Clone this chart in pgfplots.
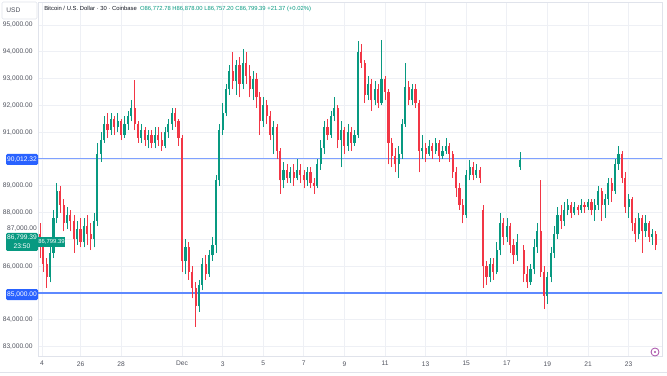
\documentclass[border=0pt]{standalone}
\usepackage{pgfplots}
\pgfplotsset{compat=1.18}
\usepackage{pgfplotstable}
\usepackage{fontspec}
\setmainfont{Liberation Sans}
\definecolor{upc}{HTML}{089981}
\definecolor{dnc}{HTML}{F23645}
\definecolor{gridc}{HTML}{EEF0F5}
\definecolor{txt}{HTML}{131722}
\definecolor{gtxt}{HTML}{50535E}
\definecolor{blu}{HTML}{2962FF}
\definecolor{bordc}{HTML}{E0E3EB}

\pgfplotstableread{
x o h l c
24.50 85600 86700 85400 86500
24.67 86500 88100 86300 87800
24.83 87800 89100 87600 88800
25.33 87600 88200 87400 87900
25.83 87000 87700 86800 87400
26.17 86900 87800 86700 87500
26.67 87000 88000 86700 87700
26.83 87700 90600 87500 90200
27.00 90200 91000 89900 90700
27.17 90700 91600 90600 91300
27.50 91100 91700 90900 91500
27.83 91200 91700 91000 91400
28.17 90900 91600 90800 91300
28.33 91300 91800 91100 91600
28.50 91600 92200 91400 91900
29.00 90800 91300 90600 91100
29.33 90700 91100 90400 90900
29.67 90600 91200 90400 90900
30.17 90500 91200 90400 91000
30.33 91000 91500 90800 91300
30.50 91300 91900 91100 91700
31.17 86200 87000 85700 86700
31.83 84500 85500 84300 85300
32.00 85300 86300 85100 86100
32.33 85700 86600 85600 86400
32.50 86400 87100 86200 86800
32.67 86800 89400 86500 89200
32.83 89200 91300 89000 91100
33.00 91100 92100 90900 91700
33.17 91700 92800 91600 92600
33.33 92600 93500 92400 93300
33.67 92900 93700 92400 93500
34.00 92800 94100 92600 93600
34.50 92600 93300 92200 93000
35.00 91400 92300 91200 92000
35.50 90900 91400 90200 91200
36.00 89200 89900 88900 89600
36.33 89300 89700 89100 89500
36.67 89300 90000 89200 89600
37.17 89200 89700 89000 89500
37.67 89000 90000 88900 89800
37.83 89800 90700 89600 90400
38.00 90400 91400 90200 91200
38.33 90900 91800 90800 91600
38.50 91600 92300 91400 91900
38.83 90700 91400 89700 91100
39.17 90500 91300 90300 91000
39.50 90600 91100 90500 90900
39.67 90900 94400 90800 94000
40.17 92400 93100 92200 92800
40.50 92200 92900 92000 92600
40.83 92100 94450 92000 93000
41.67 89800 90500 89300 90200
41.83 90200 91500 90000 91300
42.00 91300 93600 91200 92700
42.33 92200 92800 92000 92600
42.83 90300 90900 90000 90400
43.17 90200 90700 90100 90500
43.50 90300 90800 90200 90600
43.83 90100 90500 90000 90300
44.00 90300 90800 90200 90500
45.00 87900 89600 87800 89400
45.17 89400 89950 89200 89700
45.50 89400 89800 89300 89600
46.17 85600 86300 85400 86100
46.50 85800 86900 85700 86600
46.67 86600 88000 86400 87600
47.00 87100 87800 86900 87500
47.50 86400 87200 86200 86900
47.67 89700 90260 89590 89950
48.17 85400 86100 85300 85900
48.33 85900 87000 85700 86700
48.50 86700 87600 86500 87300
49.00 84900 85800 84600 85600
49.17 85600 86700 85400 86500
49.33 86500 87500 86300 87200
49.50 87200 88200 87000 87900
49.83 87700 88400 87500 88100
50.00 88100 88500 87900 88300
50.33 88000 88400 87900 88200
50.67 88100 88500 88000 88300
51.00 88200 88500 88100 88400
51.33 88100 88500 87700 88300
51.50 88300 89000 88100 88800
51.83 88300 88700 87800 88500
52.00 88500 89300 88300 89100
52.33 88800 90000 88700 89800
52.50 89800 90500 89600 90200
53.00 88200 88700 87800 88500
53.50 87200 88000 87000 87800
53.83 87300 87900 87100 87600
54.17 87100 87400 86800 87200
}\upc

\pgfplotstableread{
x o h l c
24.00 87200 87600 86300 86700
24.17 86700 86900 85800 86100
24.33 86100 86300 85200 85600
25.00 88800 89000 88000 88300
25.17 88300 88500 87300 87600
25.50 87900 88100 87300 87700
25.67 87700 87900 86500 87000
26.00 87400 87800 86700 86900
26.33 87500 87900 86800 87200
26.50 87200 87600 86600 87000
27.33 91300 91700 90800 91100
27.67 91500 91600 90900 91200
28.00 91400 91500 90700 90900
28.67 91900 92950 91100 91300
28.83 91300 91400 90600 90800
29.17 91100 91200 90500 90700
29.50 90900 91100 90400 90600
29.83 90900 91200 90500 90700
30.00 90700 91000 90300 90500
30.67 91700 91900 91200 91400
30.83 91400 91500 90500 90800
31.00 90800 90900 85800 86200
31.33 86700 86900 85500 85800
31.50 85800 86000 84800 85200
31.67 85200 85400 83750 84500
32.17 86100 86400 85500 85700
33.50 93300 94000 92600 92900
33.83 93500 93800 92300 92800
34.17 93600 94000 92800 93100
34.33 93100 93500 92300 92600
34.67 93000 93200 91900 92300
34.83 92300 92500 90900 91400
35.17 92000 92200 91300 91600
35.33 91600 91800 90700 90900
35.67 91200 91300 90000 90300
35.83 90300 90400 88700 89200
36.17 89600 89800 89100 89300
36.50 89500 89800 89000 89300
36.83 89600 89800 89100 89400
37.00 89400 89600 88900 89200
37.33 89500 89700 88900 89100
37.50 89100 89300 88700 89000
38.17 91200 91500 90700 90900
38.67 91900 92000 90400 90700
39.00 91100 91200 90200 90500
39.33 91000 91200 90300 90600
39.83 94000 94300 93400 93600
40.00 93600 93700 92100 92400
40.33 92800 93000 91800 92200
40.67 92600 92800 91900 92100
41.00 93000 93100 92200 92500
41.17 92500 92600 89800 90600
41.33 90600 90800 89700 90100
41.50 90100 90400 89500 89800
42.17 92700 92900 92000 92200
42.50 92600 92800 91900 92100
42.67 92100 92200 89500 90300
43.00 90400 90600 89900 90200
43.33 90500 90600 90000 90300
43.67 90600 90700 89900 90100
44.17 90500 90600 89900 90200
44.33 90200 90300 89300 89500
44.50 89500 89700 88600 88900
44.67 88900 89100 88100 88300
44.83 88300 88500 87600 87900
45.33 89700 89900 89200 89400
45.67 89600 89700 89100 89300
45.83 88100 88300 85200 86000
46.00 86000 86200 85300 85600
46.33 86100 86300 85500 85800
46.83 87600 87800 86800 87100
47.17 87500 87600 86500 86800
47.33 86800 87000 86100 86400
47.83 86600 86800 85400 85700
48.00 85700 86000 85200 85400
48.67 87300 89200 85600 85800
48.83 85800 86000 84400 84900
49.67 87900 88300 87400 87700
50.17 88300 88400 87800 88000
50.50 88200 88300 87900 88100
50.83 88300 88400 88000 88200
51.17 88400 88500 87900 88100
51.67 88800 88900 87700 88300
52.17 89100 89300 88400 88800
52.67 90200 90300 89100 89300
52.83 89300 89500 88000 88200
53.17 88500 88600 87300 87600
53.33 87600 87800 86900 87200
53.67 87800 87900 86500 87300
54.00 87600 87700 86900 87100
54.33 87200 87300 86600 86800
}\dnc

\begin{document}
\begin{tikzpicture}[x=0.75pt,y=0.75pt]
\path[use as bounding box] (0,0) rectangle (667,375);
\draw[bordc, line width=0.4pt] (0,3) -- (667,3);
\begin{axis}[
  at={(28.5pt,14.25pt)}, anchor=south west,
  width=468pt, height=265.5pt, scale only axis,
  xmin=23.906, xmax=54.645, ymin=82650, ymax=95858,
  axis line style={bordc, line width=0.4pt},
  major tick length=0pt,
  grid=major, major grid style={gridc, line width=0.5pt},
  xtick={24.1,26,28,31,33,35,37,39,41,43,45,47,49,51,53},
  xticklabels={4,26,28,Dec,3,5,7,9,11,13,15,17,19,21,23},
  ytick={83000,84000,85000,86000,87000,88000,89000,90000,91000,92000,93000,94000,95000},
  yticklabels={{83,000.00},{84,000.00},{},{86,000.00},{},{88,000.00},{89,000.00},{},{91,000.00},{92,000.00},{93,000.00},{94,000.00},{95,000.00}},
  ticklabel style={font=\fontsize{5}{6}\selectfont, text=gtxt},
  yticklabel style={anchor=east, xshift=-0.6pt},
  xticklabel style={yshift=-0.5pt},
  clip=true,
]
\addplot[color=blu!60, line width=0.6pt, forget plot] coordinates {(23.906,90012.32) (54.645,90012.32)};
\addplot[color=blu!75, line width=0.9pt, forget plot] coordinates {(23.906,85000) (54.645,85000)};
% wicks
\addplot[draw=none, no markers, forget plot, error bars/.cd, y dir=plus, y explicit, error mark=none,
  error bar style={draw=upc, solid, line width=0.45pt}]
  table[x=x, y=l, y error plus expr=\thisrow{h}-\thisrow{l}] {\upc};
\addplot[draw=none, no markers, forget plot, error bars/.cd, y dir=plus, y explicit, error mark=none,
  error bar style={draw=dnc, solid, line width=0.45pt}]
  table[x=x, y=l, y error plus expr=\thisrow{h}-\thisrow{l}] {\dnc};
% bodies
\addplot[draw=none, no markers, forget plot, error bars/.cd, y dir=plus, y explicit, error mark=none,
  error bar style={draw=upc, solid, line width=1.6pt}]
  table[x=x, y=o, y error plus expr=\thisrow{c}-\thisrow{o}] {\upc};
\addplot[draw=none, no markers, forget plot, error bars/.cd, y dir=plus, y explicit, error mark=none,
  error bar style={draw=dnc, solid, line width=1.6pt}]
  table[x=x, y=c, y error plus expr=\thisrow{o}-\thisrow{c}] {\dnc};
\end{axis}
% USD box
\draw[bordc, fill=white, rounded corners=1pt, line width=0.4pt] (2,356) rectangle (37,373);
\node[anchor=west, inner sep=0pt, font=\fontsize{5}{6}\selectfont, text=gtxt] at (6,365) {USD};
% title
\node[anchor=west, inner sep=0pt, font=\fontsize{4.4}{5}\selectfont] at (44,366)
  {\textcolor{txt}{Bitcoin / U.S. Dollar · 30 · Coinbase}\ \ \textcolor{upc}{O86,772.78 H86,878.00 L86,757.20 C86,799.39 +21.37 (+0.02\%)}};
% blue price labels
\fill[blu, rounded corners=1pt] (6,210) rectangle (38,221);
\node[text=white, inner sep=0pt, font=\fontsize{5}{6}\selectfont] at (22,215.5) {90,012.32};
\fill[blu, rounded corners=1pt] (6,75) rectangle (38,86);
\node[text=white, inner sep=0pt, font=\fontsize{5}{6}\selectfont] at (22,80.5) {85,000.00};
% 87,000 label pushed up by the current price label
\node[anchor=east, inner sep=0pt, font=\fontsize{5}{6}\selectfont, text=gtxt] at (37,146.5) {87,000.00};
% current price label
\fill[upc] (38,128) rectangle (65,138);
\node[text=white, inner sep=0pt, font=\fontsize{4.4}{5}\selectfont] at (51.5,133) {86,799.39};
\fill[upc, rounded corners=1pt] (6,124) rectangle (38,142);
\node[text=white, inner sep=0pt, font=\fontsize{5}{6}\selectfont] at (22,137) {86,799.39};
\node[text=white, inner sep=0pt, font=\fontsize{5}{6}\selectfont] at (22,129) {23:50};
% icon
\draw[violet!70, line width=0.6pt] (655,23) circle (4);
\fill[violet!70] (655,23) circle (1.2);
\end{tikzpicture}
\end{document}
